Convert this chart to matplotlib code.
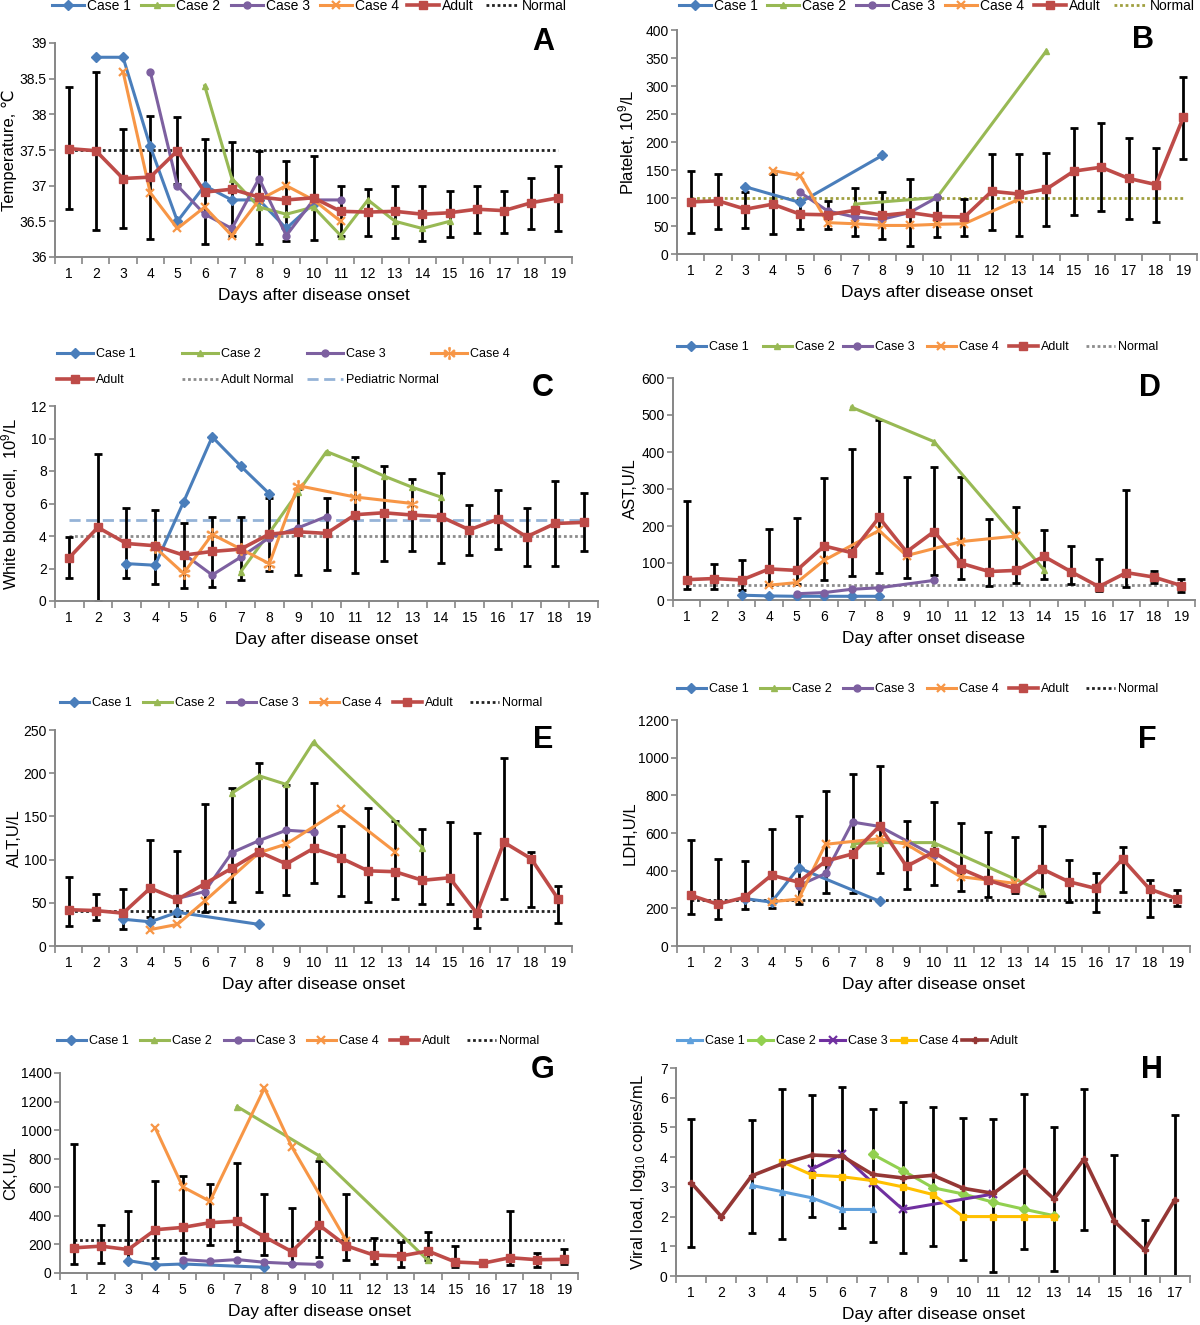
import numpy as np
import matplotlib.pyplot as plt

plt.rcParams['font.family'] = ['Liberation Sans Narrow', 'Liberation Sans', 'DejaVu Sans']
plt.rcParams['mathtext.fontset'] = 'custom'
plt.rcParams['mathtext.rm'] = 'Liberation Sans'
plt.rcParams['mathtext.default'] = 'regular'

W, H = 1200, 1325

# ---------------- A: temperature ----------------
tempAdult = [37.52, 37.49, 37.10, 37.12, 37.49, 36.91, 36.95, 36.84, 36.80, 36.83,
             36.64, 36.63, 36.64, 36.60, 36.62, 36.67, 36.65, 36.76, 36.83]
tempAdultHi = [38.38, 38.59, 37.80, 37.98, 37.96, 37.66, 37.61, 37.49, 37.35, 37.42,
               36.99, 36.95, 37.00, 37.00, 36.93, 36.99, 36.93, 37.11, 37.27]
tempAdultLo = [36.67, 36.38, 36.41, 36.25, 37.02, 36.18, 36.30, 36.18, 36.23, 36.24,
               36.29, 36.30, 36.26, 36.22, 36.28, 36.34, 36.34, 36.39, 36.37]
tempC1Days = [2, 3, 4, 5, 6, 7, 8, 9, 10]
tempC1 = [38.8, 38.8, 37.55, 36.5, 37.0, 36.8, 36.8, 36.4, 36.75]
tempC2Days = [6, 7, 8, 9, 10, 11, 12, 13, 14, 15]
tempC2 = [38.4, 37.1, 36.7, 36.6, 36.7, 36.3, 36.8, 36.5, 36.4, 36.5]
tempC3Days = [4, 5, 6, 7, 8, 9, 10, 11]
tempC3 = [38.6, 37.0, 36.6, 36.4, 37.1, 36.3, 36.8, 36.8]
tempC4Days = [3, 4, 5, 6, 7, 8, 9, 10, 11]
tempC4 = [38.6, 36.9, 36.4, 36.7, 36.3, 36.8, 37.0, 36.8, 36.5]
tempNormal = 37.5

# ---------------- B: platelet ----------------
pltAdult = [93, 95, 80, 89, 71, 70, 78, 69, 74, 67, 66, 112, 107, 116, 148, 155, 135, 124, 244]
pltAdultHi = [148, 142, 111, 142, 96, 95, 117, 111, 134, 101, 99, 179, 179, 181, 225, 234, 208, 189, 316]
pltAdultLo = [38, 45, 47, 36, 45, 44, 33, 26, 14, 30, 32, 43, 33, 50, 69, 77, 62, 58, 170]
pltC1Days = [3, 5, 8]
pltC1 = [120, 92, 176]
pltC2Days = [7, 10, 14]
pltC2 = [89, 101, 363]
pltC3Days = [5, 6, 7, 8, 9, 10]
pltC3 = [110, 77, 66, 62, 74, 101]
pltC4Days = [4, 5, 6, 7, 8, 9, 10, 11, 13]
pltC4 = [149, 140, 56, 54, 51, 51, 53, 54, 98]
pltNormal = 100

# ---------------- C: white blood cell ----------------
wbcAdult = [2.67, 4.53, 3.54, 3.40, 2.82, 3.05, 3.19, 4.12, 4.26, 4.16,
            5.31, 5.43, 5.29, 5.19, 4.38, 5.04, 3.95, 4.77, 4.84]
wbcAdultHi = [3.91, 9.05, 5.70, 5.60, 4.77, 5.20, 5.14, 6.32, 6.90, 6.32,
              8.85, 8.33, 7.51, 7.86, 5.93, 6.83, 5.73, 7.37, 6.65]
wbcAdultLo = [1.44, 0.0, 1.44, 1.07, 0.82, 0.86, 1.28, 1.85, 1.60, 1.91,
              1.75, 2.47, 3.05, 2.33, 2.84, 3.17, 2.16, 2.16, 3.09]
wbcC1Days = [3, 4, 5, 6, 7, 8]
wbcC1 = [2.3, 2.2, 6.1, 10.1, 8.3, 6.6]
wbcC2Days = [7, 8, 9, 10, 11, 12, 13, 14]
wbcC2 = [1.8, 4.2, 6.7, 9.2, 8.5, 7.7, 7.0, 6.4]
wbcC3Days = [5, 6, 7, 8, 9, 10]
wbcC3 = [2.9, 1.6, 2.7, 3.9, 4.5, 5.2]
wbcC4Days = [4, 5, 6, 7, 8, 9, 11, 13]
wbcC4 = [3.3, 1.7, 4.1, 3.2, 2.3, 7.1, 6.4, 6.0]
wbcAdultNormal = 4
wbcPedNormal = 5

# ---------------- D: AST ----------------
astAdult = [55, 58, 54, 84, 80, 146, 128, 223, 130, 185, 99, 77, 80, 118, 76, 36, 74, 62, 39]
astAdultHi = [267, 98, 107, 192, 222, 330, 407, 486, 333, 359, 333, 219, 251, 188, 147, 110, 296, 78, 57]
astAdultLo = [31, 31, 28, 40, 42, 53, 66, 72, 60, 68, 57, 38, 46, 58, 42, 24, 35, 46, 22]
astC1Days = [3, 4, 5, 6, 7, 8]
astC1 = [13, 11, 10, 10, 10, 10]
astC2Days = [7, 10, 14]
astC2 = [521, 428, 82]
astC3Days = [5, 6, 7, 8, 10]
astC3 = [17, 20, 29, 33, 53]
astC4Days = [4, 5, 6, 8, 9, 11, 13]
astC4 = [40, 47, 107, 188, 120, 158, 173]
astNormal = 40

# ---------------- E: ALT ----------------
altAdult = [42, 41, 38, 67, 54, 72, 90, 109, 95, 113, 102, 87, 86, 76, 79, 38, 120, 101, 54]
altAdultHi = [80, 60, 66, 123, 110, 164, 183, 212, 186, 189, 139, 160, 145, 135, 143, 131, 218, 109, 69]
altAdultLo = [23, 30, 20, 34, 35, 39, 51, 62, 59, 73, 58, 51, 54, 49, 49, 21, 54, 45, 27]
altC1Days = [3, 4, 5, 8]
altC1 = [31, 28, 39, 25]
altC2Days = [7, 8, 9, 10, 14]
altC2 = [177, 197, 187, 236, 114]
altC3Days = [5, 6, 7, 8, 9, 10]
altC3 = [55, 63, 108, 122, 134, 132]
altC4Days = [4, 5, 6, 8, 9, 11, 13]
altC4 = [19, 25, 52, 108, 118, 158, 109]
altNormal = 40

# ---------------- F: LDH ----------------
ldhAdult = [270, 222, 258, 376, 339, 450, 489, 637, 423, 498, 411, 350, 306, 411, 342, 306, 462, 303, 251]
ldhAdultHi = [563, 461, 450, 619, 690, 824, 911, 956, 664, 766, 651, 604, 580, 639, 457, 389, 527, 350, 297]
ldhAdultLo = [168, 146, 196, 203, 222, 282, 282, 388, 302, 326, 292, 258, 280, 267, 235, 180, 288, 156, 214]
ldhC1Days = [3, 4, 5, 8]
ldhC1 = [252, 233, 415, 238]
ldhC2Days = [7, 8, 10, 14]
ldhC2 = [543, 549, 549, 292]
ldhC3Days = [5, 6, 7, 8, 10]
ldhC3 = [320, 385, 658, 635, 482]
ldhC4Days = [4, 5, 6, 8, 9, 11, 13]
ldhC4 = [235, 249, 540, 570, 540, 368, 333]
ldhNormal = 245

# ---------------- G: CK ----------------
ckAdult = [176, 188, 164, 303, 319, 352, 363, 253, 150, 336, 191, 126, 119, 154, 77, 68, 107, 93, 96]
ckAdultHi = [900, 333, 434, 643, 680, 621, 767, 551, 455, 786, 551, 243, 219, 289, 191, np.nan, 436, 142, 168]
ckAdultLo = [63, 70, 85, 103, 143, 195, 157, 129, 65, 110, 89, 63, 40, 91, 44, np.nan, 54, 40, 61]
ckC1Days = [3, 4, 5, 8]
ckC1 = [87, 56, 63, 40]
ckC2Days = [7, 10, 14]
ckC2 = [1165, 821, 88]
ckC3Days = [5, 6, 7, 8, 9, 10]
ckC3 = [94, 82, 94, 75, 66, 60]
ckC4Days = [4, 5, 6, 8, 9, 11]
ckC4 = [1013, 603, 502, 1295, 884, 227]
ckNormal = 232

# ---------------- H: viral load ----------------
vlAdult = [3.14, 2.0, 3.37, 3.77, 4.07, 4.03, 3.42, 3.30, 3.39, 2.95, 2.78, 3.54, 2.59, 3.94, 1.84, 0.87, 2.57]
vlAdultHi = [5.28, np.nan, 5.26, 6.29, 6.09, 6.35, 5.63, 5.84, 5.70, 5.33, 5.30, 6.14, 5.0, 6.29, 4.08, 1.89, 5.43]
vlAdultLo = [0.99, np.nan, 1.44, 1.25, 1.97, 1.61, 1.15, 0.77, 1.0, 0.54, 0.15, 0.92, 0.17, 1.56, 0.0, 0.0, 0.0]
vlC1Days = [3, 4, 5, 6, 7]
vlC1 = [3.05, 2.84, 2.63, 2.24, 2.24]
vlC2Days = [7, 8, 9, 10, 11, 12, 13]
vlC2 = [4.1, 3.55, 2.97, 2.76, 2.48, 2.25, 2.03]
vlC3Days = [5, 6, 7, 8, 11]
vlC3 = [3.6, 4.1, 3.14, 2.24, 2.76]
vlC4Days = [4, 5, 6, 7, 8, 9, 10, 11, 12, 13]
vlC4 = [3.85, 3.4, 3.34, 3.21, 3.0, 2.74, 2.0, 2.0, 2.0, 2.0]

caseLabels = ['Case 1', 'Case 2', 'Case 3', 'Case 4']
colors = ['#4A7EBB', '#98B954', '#7D60A0', '#F79646']
adultColor = '#BE4B48'
markers = ['D', '^', 'o', 'x']
hColors = ['#5FA0DC', '#92D050', '#7030A0', '#FFC000']
hMarkers = ['^', 'D', 'x', 's']
hAdultColor = '#953735'

fig = plt.figure(figsize=(W / 100, H / 100), dpi=100)


def rect(x0, x1, ytop, ybot):
    return [x0 / W, 1 - ybot / H, (x1 - x0) / W, (ybot - ytop) / H]


def panel(r, mean, hi, lo, cases, ylim, ystep, ylabel, ylabel_x, xlabel, letter, letter_xy,
          cols=colors, marks=markers, acolor=adultColor, amark='s', ams=5.5):
    ax = fig.add_axes(r)
    n = len(mean)
    days = np.arange(1, n + 1)
    mean = np.array(mean, float)
    hi = np.array(hi, float)
    lo = np.array(lo, float)
    ok = ~np.isnan(hi)
    ax.errorbar(days[ok], mean[ok], yerr=[mean[ok] - lo[ok], hi[ok] - mean[ok]], fmt='none',
                ecolor='black', elinewidth=2, capsize=3.2, capthick=2, zorder=2)
    handles = []
    for (x, y), c, m, lab in zip(cases, cols, marks, caseLabels):
        ms = 6 if m == 'x' else 5
        h, = ax.plot(x, y, color=c, lw=2.2, marker=m, ms=ms, mew=1.6 if m == 'x' else 1,
                     label=lab, zorder=3)
        handles.append(h)
    h, = ax.plot(days, mean, color=acolor, lw=2.6, marker=amark, ms=ams, label='Adult', zorder=4)
    handles.append(h)
    ax.set_xlim(0.5, n + 0.5)
    ax.set_ylim(*ylim)
    ax.set_xticks(days)
    ax.set_xticks(np.arange(0.5, n + 1), minor=True)
    ax.tick_params(axis='x', which='major', length=0, pad=7, labelsize=10)
    ax.tick_params(axis='x', which='minor', length=5, width=1.2, color='#868686')
    ax.set_yticks(np.arange(ylim[0], ylim[1] + ystep / 2, ystep))
    ax.yaxis.set_major_formatter(plt.FormatStrFormatter('%g'))
    ax.tick_params(axis='y', length=4, width=1.2, color='#868686', labelsize=10, pad=2)
    for s in ['top', 'right']:
        ax.spines[s].set_visible(False)
    for s in ['left', 'bottom']:
        ax.spines[s].set_color('#868686')
        ax.spines[s].set_linewidth(1.4)
    ax.set_ylabel(ylabel, fontsize=12)
    # place label so that its centre sits at ylabel_x (pixels)
    x0 = r[0] * W
    ax.yaxis.set_label_coords((ylabel_x + 8 - x0) / (r[2] * W), 0.5)
    ax.set_xlabel(xlabel, fontsize=12.5, labelpad=5)
    fig.text(letter_xy[0] / W, 1 - letter_xy[1] / H, letter, fontsize=22, weight='bold',
             family='Liberation Sans', ha='center', va='center')
    return ax, days, handles


def normal_line(ax, days, value, color, style, label):
    h, = ax.plot(days, np.full(len(days), value), color=color, ls=style, lw=2, label=label, zorder=1)
    return h


def legend_row(handles, xs, y, size=9, hlen=2.3):
    for h, x in zip(handles, xs):
        fig.legend([h], [h.get_label()], loc='center left', bbox_to_anchor=(x / W, 1 - y / H),
                   frameon=False, borderpad=0, borderaxespad=0, handlelength=hlen,
                   handletextpad=0.25, fontsize=size, numpoints=1)


dots = (0, (1, 1))

# A
ax, d, hs = panel(rect(55, 572, 43, 257), tempAdult, tempAdultHi, tempAdultLo,
                  [(tempC1Days, tempC1), (tempC2Days, tempC2), (tempC3Days, tempC3), (tempC4Days, tempC4)],
                  (36, 39), 0.5, 'Temperature, \u2103', 9, 'Days after disease onset', 'A', (543, 42))
hs.append(normal_line(ax, d, tempNormal, '#222222', dots, 'Normal'))
legend_row(hs, [52, 141, 231, 320, 407, 486], 6, size=10, hlen=2.3)

# B
ax, d, hs = panel(rect(677, 1197, 30, 254), pltAdult, pltAdultHi, pltAdultLo,
                  [(pltC1Days, pltC1), (pltC2Days, pltC2), (pltC3Days, pltC3), (pltC4Days, pltC4)],
                  (0, 400), 50, 'Platelet, 10$^{9}$/L', 630, 'Days after disease onset', 'B', (1143, 40))
hs.append(normal_line(ax, d, pltNormal, '#A0A040', dots, 'Normal'))
legend_row(hs, [679, 767, 856, 945, 1034, 1114], 6, size=10, hlen=2.3)

# C
ax, d, hs = panel(rect(55, 598, 406, 601), wbcAdult, wbcAdultHi, wbcAdultLo,
                  [(wbcC1Days, wbcC1), (wbcC2Days, wbcC2), (wbcC3Days, wbcC3), (wbcC4Days, wbcC4)],
                  (0, 12), 2, 'White blood cell,  10$^{9}$/L', 13, 'Day after disease onset', 'C', (543, 388))
hs[3].set_marker('$\u2217$')
hs[3].set_markersize(9)
hs[3].set_markeredgewidth(0.5)
hAN = normal_line(ax, d, wbcAdultNormal, '#8C8C8C', dots, 'Adult Normal')
hPN = normal_line(ax, d, wbcPedNormal, '#95B3D7', (0, (4, 2)), 'Pediatric Normal')
legend_row(hs[:4], [57, 182, 307, 431], 354, hlen=2.9)
legend_row([hs[4], hAN, hPN], [57, 182, 307], 380, hlen=2.9)

# D
ax, d, hs = panel(rect(673, 1195, 378, 600), astAdult, astAdultHi, astAdultLo,
                  [(astC1Days, astC1), (astC2Days, astC2), (astC3Days, astC3), (astC4Days, astC4)],
                  (0, 600), 100, 'AST,U/L', 630, 'Day after onset disease', 'D', (1150, 388))
hs.append(normal_line(ax, d, astNormal, '#8C8C8C', dots, 'Normal'))
legend_row(hs, [677, 763, 843, 927, 1009, 1086], 347)

# E
ax, d, hs = panel(rect(55, 572, 730, 946), altAdult, altAdultHi, altAdultLo,
                  [(altC1Days, altC1), (altC2Days, altC2), (altC3Days, altC3), (altC4Days, altC4)],
                  (0, 250), 50, 'ALT,U/L', 14, 'Day after disease onset', 'E', (543, 740))
hs.append(normal_line(ax, d, altNormal, '#222222', dots, 'Normal'))
legend_row(hs, [60, 143, 227, 310, 393, 470], 703)

# F
ax, d, hs = panel(rect(677, 1190, 720, 946), ldhAdult, ldhAdultHi, ldhAdultLo,
                  [(ldhC1Days, ldhC1), (ldhC2Days, ldhC2), (ldhC3Days, ldhC3), (ldhC4Days, ldhC4)],
                  (0, 1200), 200, 'LDH,U/L', 630, 'Day after disease onset', 'F', (1147, 740))
hs.append(normal_line(ax, d, ldhNormal, '#222222', dots, 'Normal'))
legend_row(hs, [677, 760, 843, 927, 1009, 1086], 689)

# G
ax, d, hs = panel(rect(60, 578, 1073, 1273), ckAdult, ckAdultHi, ckAdultLo,
                  [(ckC1Days, ckC1), (ckC2Days, ckC2), (ckC3Days, ckC3), (ckC4Days, ckC4)],
                  (0, 1400), 200, 'CK,U/L', 10, 'Day after disease onset', 'G', (543, 1070))
hs.append(normal_line(ax, d, ckNormal, '#222222', dots, 'Normal'))
legend_row(hs, [57, 140, 224, 307, 390, 467], 1041)

# H
ax, d, hs = panel(rect(676, 1190, 1068, 1276), vlAdult, vlAdultHi, vlAdultLo,
                  [(vlC1Days, vlC1), (vlC2Days, vlC2), (vlC3Days, vlC3), (vlC4Days, vlC4)],
                  (0, 7), 1, 'Viral load, log$_{10}$ copies/mL', 640, 'Day after disease onset', 'H', (1152, 1070),
                  cols=hColors, marks=hMarkers, acolor=hAdultColor, amark='P', ams=5)
legend_row(hs, [677, 748, 820, 891, 962], 1041, hlen=2.0)

fig.savefig('out.png', dpi=100)
